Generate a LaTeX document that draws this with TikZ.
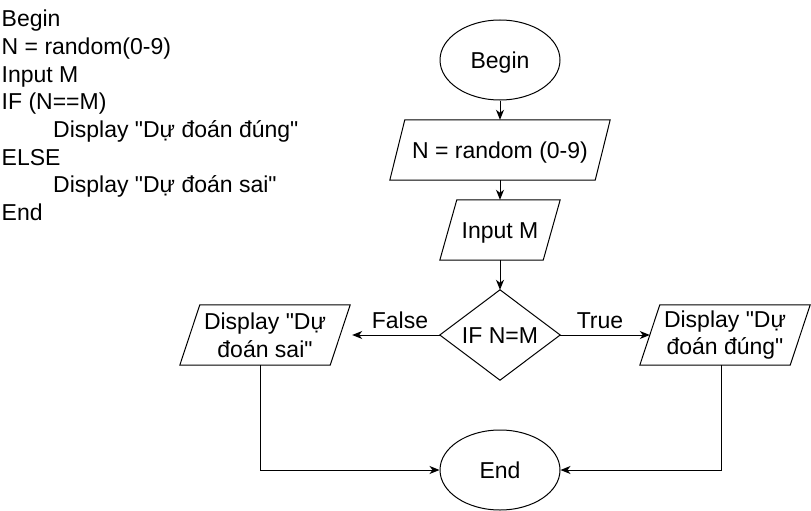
\documentclass[tikz,border=0pt]{standalone}
\usepackage{fontspec}
\setmainfont{Liberation Sans}
\usetikzlibrary{arrows.meta,shapes.geometric,calc}
\newcommand\sq{\XeTeXglyph\XeTeXcharglyph"22\relax}
\tikzset{
  every node/.style={font=\fontsize{23}{27.6}\selectfont},
  ln/.style={line width=1pt,draw=black},
  arr/.style={ln,-{Stealth[length=10pt,width=8pt,inset=3pt]}},
  oneline/.style={text height=16.5pt,text depth=0pt},
  term/.style={ellipse,draw,line width=1pt,minimum width=120pt,minimum height=80pt,inner sep=0pt,oneline},
  boxarea/.style={rectangle,inner sep=0pt,align=center},
  code/.style={anchor=base west,inner sep=0pt},
  lbl/.style={inner sep=0pt}
}
\newcommand\paral[2]{\draw[ln] ([xshift=#2]#1.north west) -- (#1.north east) -- ([xshift=-#2]#1.south east) -- (#1.south west) -- cycle;}
\newcommand\rhomb[1]{\draw[ln] (#1.north) -- (#1.east) -- (#1.south) -- (#1.west) -- cycle;}
\begin{document}
\begin{tikzpicture}[x=1pt,y=-1pt]
\useasboundingbox (0,0) rectangle (811,511);
% pseudo code
\node[code] (t1) at (1.5,27) {Begin};
\node[code] (t2) at (1.5,54.6) {N = random(0-9)};
\node[code] (t3) at (1.5,82.2) {Input M};
\node[code] (t4) at (1.5,109.8) {IF (N==M)};
\node[code] (t5) at (53,137.4) {Display \sq Dự đoán đúng\sq};
\node[code] (t6) at (1.5,165) {ELSE};
\node[code] (t7) at (53,192.6) {Display \sq Dự đoán sai\sq};
\node[code] (t8) at (1.5,220.2) {End};
% flowchart
\node[term] (beg) at (500,60) {Begin};
\node[boxarea,oneline,minimum width=220pt,minimum height=60pt] (n1) at (500,150) {N = random (0-9)};
\paral{n1}{15pt}
\node[boxarea,oneline,minimum width=120pt,minimum height=60pt] (inp) at (500,230) {Input M};
\paral{inp}{17pt}
\node[boxarea,oneline,minimum width=120pt,minimum height=90pt] (dia) at (500,335) {IF N=M};
\rhomb{dia}
\node[boxarea,minimum width=170pt,minimum height=60pt] (sai) at (265,335) {Display \sq Dự\\đoán sai\sq};
\paral{sai}{20pt}
\node[boxarea,minimum width=170pt,minimum height=60pt] (dung) at (725,335) {Display \sq Dự\\đoán đúng\sq};
\paral{dung}{20pt}
\node[term] (end) at (500,470) {End};
% connectors
\draw[arr] (beg.south) -- (n1.north);
\draw[arr] (n1.south) -- (inp.north);
\draw[arr] (inp.south) -- (dia.north);
\draw[arr] (dia.west) -- ([xshift=2pt]sai.east);
\draw[arr] (dia.east) -- ([xshift=10pt]dung.west);
\draw[arr] ([xshift=-4.5pt]sai.south) |- (end.west);
\draw[arr] ([xshift=-3.5pt]dung.south) |- (end.east);
\node[lbl,oneline] (lf) at (400,320) {False};
\node[lbl,oneline] (lt) at (600,320) {True};
\end{tikzpicture}
\end{document}
